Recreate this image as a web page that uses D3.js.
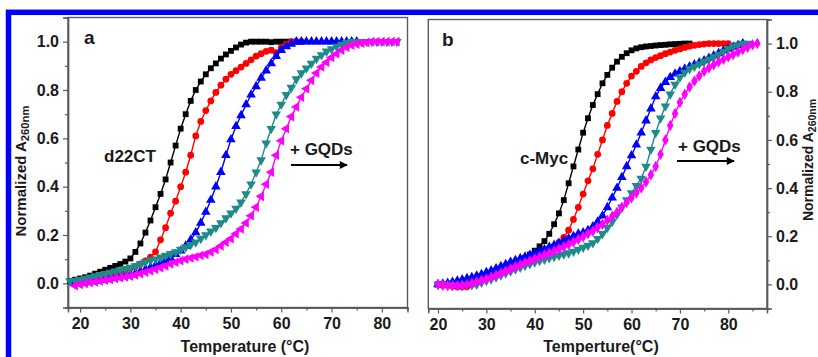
<!DOCTYPE html>
<html><head><meta charset="utf-8">
<script src="https://cdn.jsdelivr.net/npm/d3@7"></script>
<style>
body{margin:0;background:#fff}
svg{display:block}
text{font-family:Arial,"Liberation Sans",sans-serif;font-weight:bold;fill:#1a1a1a}
</style>
</head><body>
<svg id="c" width="818" height="357"></svg>
<script>
// ---------- DATA ----------
// Panel a (d22CT): temperatures (°C)
const tempA = [18,19,20,21,22,23,24,25,26,27,28,29,30,31,32,33,34,35,36,37,38,39,40,41,42,43,44,45,46,47,48,49,50,51,52,53,54,55,56,57,58,59,60,61,62,63,64,65,66,67,68,69,70,71,72,73,74,75,76,77,78,79,80,81,82,83];
const blackA = [0.01,0.015,0.02,0.025,0.032,0.04,0.048,0.056,0.064,0.072,0.08,0.09,0.103,0.13,0.165,0.21,0.26,0.315,0.37,0.43,0.5,0.57,0.64,0.70,0.755,0.80,0.835,0.865,0.89,0.91,0.93,0.947,0.962,0.976,0.988,0.996,1.0,1.0,1.0,1.0,0.998,1.0,1.0,1.0,1.0,null,null,null,null,null,null,null,null,null,null,null,null,null,null,null,null,null,null,null,null,null];
const redA = [null,0.005,0.01,0.015,0.02,0.025,0.03,0.035,0.04,0.045,0.05,0.055,0.062,0.07,0.08,0.093,0.108,0.13,0.18,0.23,0.29,0.34,0.40,0.46,0.53,0.61,0.67,0.715,0.755,0.79,0.82,0.845,0.865,0.88,0.895,0.91,0.925,0.94,0.95,0.96,0.965,0.955,0.975,0.99,1.0,1.0,1.0,null,null,null,null,null,null,null,null,null,null,null,null,null,null,null,null,null,null,null];
const blueA = [null,0.0,0.0,0.004,0.007,0.01,0.013,0.016,0.02,0.024,0.028,0.032,0.036,0.042,0.05,0.058,0.066,0.075,0.085,0.095,0.105,0.12,0.135,0.155,0.18,0.21,0.25,0.295,0.345,0.40,0.46,0.53,0.595,0.65,0.695,0.74,0.78,0.815,0.85,0.88,0.91,0.94,0.965,0.98,0.99,1.0,1.0,1.0,1.0,1.0,1.0,1.0,1.0,1.0,1.0,1.0,1.0,1.0,null,null,null,null,null,null,null,null];
const tealA = [0.01,0.012,0.015,0.02,0.025,0.03,0.035,0.04,0.045,0.05,0.055,0.06,0.065,0.072,0.08,0.088,0.095,0.10,0.108,0.115,0.122,0.13,0.14,0.15,0.16,0.17,0.185,0.20,0.215,0.23,0.25,0.27,0.29,0.31,0.335,0.37,0.41,0.46,0.51,0.58,0.64,0.70,0.74,0.78,0.81,0.845,0.87,0.89,0.91,0.93,0.945,0.96,0.97,0.98,0.988,0.995,1.0,1.0,1.0,1.0,1.0,1.0,1.0,1.0,1.0,1.0];
const magentaA = [null,-0.01,-0.005,0.0,0.003,0.006,0.01,0.013,0.016,0.02,0.023,0.026,0.03,0.035,0.04,0.046,0.052,0.058,0.065,0.072,0.08,0.087,0.094,0.10,0.105,0.11,0.115,0.12,0.13,0.14,0.155,0.17,0.185,0.205,0.225,0.25,0.28,0.315,0.36,0.41,0.46,0.53,0.59,0.64,0.69,0.73,0.77,0.805,0.84,0.87,0.895,0.915,0.935,0.95,0.965,0.977,0.985,0.99,0.994,0.997,1.0,1.0,1.0,1.0,1.0,1.0];

// Panel b (c-Myc): temperatures (°C)
const tempB = [20,21,22,23,24,25,26,27,28,29,30,31,32,33,34,35,36,37,38,39,40,41,42,43,44,45,46,47,48,49,50,51,52,53,54,55,56,57,58,59,60,61,62,63,64,65,66,67,68,69,70,71,72,73,74,75,76,77,78,79,80,81,82,83,84,85,86];
const blackB = [0.0,0.0,0.0,0.003,0.006,0.01,0.015,0.02,0.025,0.03,0.035,0.042,0.05,0.058,0.066,0.075,0.085,0.097,0.11,0.124,0.14,0.158,0.18,0.21,0.25,0.295,0.35,0.42,0.49,0.56,0.63,0.69,0.745,0.79,0.835,0.87,0.9,0.925,0.945,0.96,0.972,0.98,0.985,0.988,0.99,0.992,0.994,0.995,0.997,0.998,0.999,1.0,1.0,null,null,null,null,null,null,null,null,null,null,null,null,null,null];
const redB = [0.0,-0.003,-0.005,-0.007,-0.01,-0.01,-0.01,0.0,0.01,0.018,0.025,0.032,0.04,0.048,0.056,0.065,0.074,0.083,0.093,0.103,0.113,0.125,0.138,0.15,0.16,0.175,0.195,0.225,0.27,0.32,0.375,0.43,0.48,0.54,0.6,0.66,0.71,0.76,0.8,0.835,0.865,0.885,0.905,0.92,0.932,0.942,0.95,0.958,0.965,0.972,0.978,0.984,0.989,0.993,0.996,0.998,1.0,1.0,1.0,1.0,1.0,null,null,null,null,null,null];
const blueB = [0.0,0.003,0.006,0.01,0.015,0.02,0.025,0.03,0.036,0.042,0.05,0.058,0.066,0.075,0.084,0.093,0.10,0.108,0.115,0.122,0.13,0.138,0.146,0.155,0.163,0.172,0.18,0.19,0.2,0.21,0.215,0.225,0.24,0.26,0.285,0.32,0.36,0.40,0.445,0.49,0.535,0.58,0.63,0.68,0.73,0.78,0.815,0.84,0.86,0.875,0.885,0.895,0.905,0.913,0.921,0.93,0.94,0.95,0.96,0.97,0.978,0.986,0.993,1.0,null,null,null];
const tealB = [0.0,0.0,-0.003,-0.005,-0.005,-0.005,-0.003,-0.002,0.0,0.008,0.015,0.022,0.03,0.038,0.047,0.055,0.063,0.07,0.078,0.085,0.092,0.098,0.104,0.11,0.115,0.12,0.125,0.13,0.137,0.145,0.153,0.162,0.172,0.19,0.21,0.235,0.26,0.29,0.32,0.35,0.38,0.41,0.44,0.49,0.56,0.63,0.69,0.74,0.79,0.83,0.86,0.88,0.895,0.905,0.915,0.925,0.935,0.945,0.955,0.967,0.978,0.987,0.994,1.0,1.0,null,null];
const magentaB = [0.0,-0.003,-0.005,-0.005,-0.005,-0.003,0.0,0.005,0.01,0.016,0.022,0.03,0.038,0.046,0.055,0.064,0.073,0.082,0.09,0.098,0.106,0.114,0.122,0.13,0.138,0.147,0.156,0.166,0.176,0.187,0.198,0.21,0.222,0.236,0.25,0.266,0.283,0.30,0.32,0.34,0.36,0.38,0.40,0.425,0.455,0.49,0.54,0.60,0.66,0.71,0.755,0.79,0.82,0.845,0.865,0.885,0.9,0.912,0.924,0.935,0.945,0.955,0.965,0.975,0.985,0.995,1.0];

const xTicks = [20,30,40,50,60,70,80];
const xMinor = [25,35,45,55,65,75,85];
const yTicks = [0.0,0.2,0.4,0.6,0.8,1.0];
const yMinor = [0.1,0.3,0.5,0.7,0.9];
const seriesColors = ["#000000","#ff0000","#0000ff","#1f8a8a","#ff00ff"];

// ---------- DRAW ----------
const svg = d3.select("#c");
svg.append("rect").attr("width",818).attr("height",357).attr("fill","#fff");

function panel(cfg){
  const x = d3.scaleLinear().domain(cfg.xdom).range([cfg.x0,cfg.x1]);
  const y = d3.scaleLinear().domain([-0.1,1.1]).range([cfg.y1,cfg.y0]);
  const g = svg.append("g");
  g.append("rect").attr("x",cfg.x0).attr("y",cfg.y0)
    .attr("width",cfg.x1-cfg.x0).attr("height",cfg.y1-cfg.y0)
    .attr("fill","none").attr("stroke","#5a5a5a").attr("stroke-width",1.4);
  g.append("g").attr("transform",`translate(0,${cfg.y1})`)
    .call(d3.axisBottom(x).tickValues(xTicks).tickSize(5).tickPadding(5).tickFormat(d3.format("d")));
  g.append("g").attr("transform",`translate(0,${cfg.y1})`)
    .call(d3.axisBottom(x).tickValues(xMinor).tickSize(3).tickFormat(""));
  const ya = cfg.right ? d3.axisRight(y) : d3.axisLeft(y);
  const ym = cfg.right ? d3.axisRight(y) : d3.axisLeft(y);
  const yx = cfg.right ? cfg.x1 : cfg.x0;
  g.append("g").attr("transform",`translate(${yx},0)`)
    .call(ya.tickValues(yTicks).tickSize(5).tickPadding(4).tickFormat(d3.format(".1f")));
  g.append("g").attr("transform",`translate(${yx},0)`)
    .call(ym.tickValues(yMinor).tickSize(3).tickFormat(""));
  g.selectAll(".domain").attr("stroke","#5a5a5a").attr("stroke-width",1.4);
  g.selectAll(".tick line").attr("stroke","#5a5a5a").attr("stroke-width",1.2);
  g.selectAll(".tick text").attr("font-size",16).attr("font-weight","bold")
    .attr("font-family","Arial, 'Liberation Sans', sans-serif").attr("fill","#1a1a1a");

  cfg.series.forEach((vals,k)=>{
    const pts = cfg.temps.map((t,i)=>[t,vals[i]]).filter(p=>p[1]!==null);
    const col = seriesColors[k];
    g.append("path").datum(pts)
      .attr("d",d3.line().x(p=>x(p[0])).y(p=>y(p[1])))
      .attr("fill","none").attr("stroke",col).attr("stroke-width",1.4);
    const sym = cfg.symbols[k];
    g.append("g").selectAll("path").data(pts).join("path")
      .attr("d",d3.symbol().type(sym.type).size(sym.size))
      .attr("transform",p=>`translate(${x(p[0])},${y(p[1])}) rotate(${sym.rot})`)
      .attr("fill",col);
  });
}

const symsA = [
  {type:d3.symbolSquare,size:34,rot:0},
  {type:d3.symbolCircle,size:36,rot:0},
  {type:d3.symbolTriangle,size:40,rot:0},
  {type:d3.symbolTriangle,size:40,rot:180},
  {type:d3.symbolTriangle,size:40,rot:-90}
];
const symsB = [
  {type:d3.symbolSquare,size:34,rot:0},
  {type:d3.symbolCircle,size:36,rot:0},
  {type:d3.symbolTriangle,size:40,rot:0},
  {type:d3.symbolTriangle,size:40,rot:180},
  {type:d3.symbolDiamond,size:38,rot:0}
];

panel({x0:68,x1:407.5,y0:17.5,y1:307.5,xdom:[17.6,85.1],right:false,
  temps:tempA,series:[blackA,redA,blueA,tealA,magentaA],symbols:symsA});
panel({x0:428.3,x1:767,y0:19.5,y1:308.5,xdom:[18,88],right:true,
  temps:tempB,series:[blackB,redB,blueB,tealB,magentaB],symbols:symsB});

svg.append("defs").append("marker").attr("id","ah").attr("viewBox","0 0 10 10")
  .attr("refX",9).attr("refY",5).attr("markerWidth",11).attr("markerHeight",8)
  .attr("markerUnits","userSpaceOnUse").attr("orient","auto")
  .append("path").attr("d","M0,0L10,5L0,10Z").attr("fill","#000");

function label(x,y,t,size,anchor){
  return svg.append("text").attr("x",x).attr("y",y).attr("font-size",size)
    .attr("text-anchor",anchor||"start").text(t);
}
label(84,44,"a",19);
label(442,46,"b",19);
label(104,162,"d22CT",17);
label(290,155,"+ GQDs",17);
label(520,164,"c-Myc",17);
label(678,152,"+ GQDs",17);
svg.append("line").attr("x1",291).attr("x2",347).attr("y1",165).attr("y2",165)
  .attr("stroke","#000").attr("stroke-width",1.8).attr("marker-end","url(#ah)");
svg.append("line").attr("x1",677).attr("x2",734).attr("y1",161).attr("y2",161)
  .attr("stroke","#000").attr("stroke-width",1.8).attr("marker-end","url(#ah)");

label(245,352,"Temperature (°C)",16,"middle");
label(601,352,"Temperture(°C)",16,"middle");
function ytitle(x,y,size){
  const t = svg.append("text").attr("transform",`translate(${x},${y}) rotate(-90)`)
    .attr("text-anchor","middle").attr("font-size",size);
  t.append("tspan").text("Normalized A");
  t.append("tspan").attr("dy",3).attr("font-size",size*0.75).text("260nm");
}
ytitle(26,171,15);
ytitle(813,160,14);

svg.append("rect").attr("x",8.5).attr("y",12.3).attr("width",900).attr("height",500)
  .attr("fill","none").attr("stroke","#0000ff").attr("stroke-width",5.5);
</script>
</body></html>
